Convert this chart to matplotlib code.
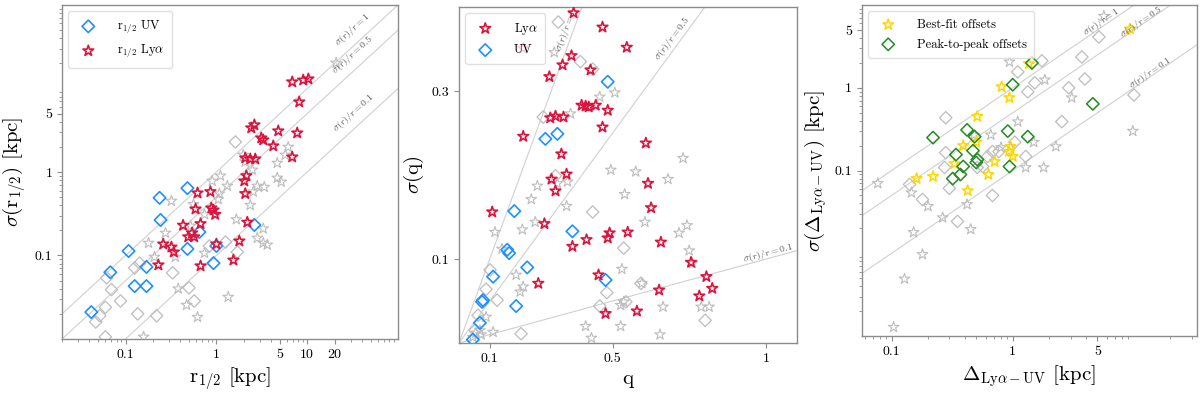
import matplotlib.pyplot as plt
from matplotlib.ticker import NullFormatter, LogLocator
import numpy as np

plt.rcParams['font.family'] = 'serif'
plt.rcParams['font.serif'] = ['cmr10']
plt.rcParams['mathtext.fontset'] = 'cm'
plt.rcParams['axes.formatter.use_mathtext'] = True

# ---- panel 1: half-light radius ----
r_uv = [0.48, 0.237, 0.243, 0.108, 0.068, 0.170, 0.126, 0.170, 0.042, 0.65, 0.48, 1.0, 0.93, 2.62]
sig_r_uv = [0.64, 0.49, 0.266, 0.113, 0.063, 0.073, 0.043, 0.043, 0.021, 0.191, 0.12, 0.130, 0.081, 0.232]

r_lya = [6.84, 9.03, 10.3, 8.17, 2.42, 2.62, 4.80, 7.76, 3.12, 3.28,
         4.23, 6.84, 2.08, 2.36, 2.68, 2.14, 2.03, 0.62, 0.86, 2.08,
         0.59, 0.88, 0.93, 0.97, 0.43, 0.67, 0.54, 0.49, 0.57, 0.26,
         0.32, 0.34, 1.0, 2.19, 1.79, 1.54, 0.67, 0.23]
sig_r_lya = [11.97, 12.6, 13.0, 6.89, 3.37, 3.66, 3.10, 2.93, 2.55, 2.42,
             2.05, 1.51, 1.47, 1.43, 1.43, 0.90, 0.78, 0.56, 0.58, 0.55,
             0.36, 0.37, 0.35, 0.31, 0.23, 0.24, 0.186, 0.167, 0.167, 0.137,
             0.126, 0.110, 0.137, 0.25, 0.149, 0.088, 0.075, 0.077]

r_uv_bg = [1.26, 0.84, 1.70, 0.143, 0.126, 0.33, 0.062, 0.070, 0.088, 0.060,
           0.052, 0.047, 0.136, 0.22, 0.50, 0.57, 0.060, 1.62]
sig_r_uv_bg = [0.145, 0.130, 0.110, 0.081, 0.071, 0.062, 0.054, 0.039, 0.0285, 0.024,
               0.019, 0.016, 0.020, 0.019, 0.041, 0.0285, 0.0106, 2.29]

r_lya_bg = [20.8, 6.18, 5.73, 4.68, 4.68, 5.18, 1.98, 2.08, 2.49, 1.11,
            0.90, 1.32, 2.82, 3.37, 2.55, 1.08, 0.32, 0.56, 1.05, 2.36,
            1.66, 3.28, 2.82, 3.63, 3.28, 0.275, 0.179, 0.208, 0.354, 0.52,
            0.74, 0.74, 0.38, 0.47, 0.62, 1.35, 0.158]
sig_r_lya_bg = [20.2, 1.99, 1.60, 1.28, 0.85, 0.76, 1.60, 1.32, 1.06, 0.90,
                0.78, 0.68, 0.68, 0.66, 0.58, 0.55, 0.45, 0.41, 0.47, 0.40,
                0.27, 0.21, 0.162, 0.134, 0.141, 0.186, 0.141, 0.096, 0.096, 0.226,
                0.31, 0.107, 0.040, 0.0255, 0.0183, 0.0318, 0.0106]

# ---- panel 2: axis ratio ----
q_lya = [0.373, 0.467, 0.546, 0.209, 0.366, 0.337, 0.428, 0.294, 0.399, 0.412,
         0.422, 0.445, 0.484, 0.297, 0.314, 0.340, 0.467, 0.209, 0.608, 0.333,
         0.350, 0.301, 0.314, 0.615, 0.108, 0.278, 0.625, 0.490, 0.484, 0.549,
         0.415, 0.369, 0.657, 0.755, 0.258, 0.454, 0.805, 0.824, 0.651, 0.782,
         0.477, 0.579]
sig_q_lya = [0.393, 0.376, 0.352, 0.351, 0.342, 0.331, 0.325, 0.317, 0.283, 0.282,
             0.281, 0.283, 0.277, 0.268, 0.270, 0.269, 0.257, 0.246, 0.238, 0.225,
             0.201, 0.195, 0.181, 0.190, 0.156, 0.142, 0.161, 0.131, 0.125, 0.132,
             0.123, 0.115, 0.120, 0.096, 0.071, 0.081, 0.079, 0.065, 0.063, 0.056,
             0.035, 0.038]

q_uv = [0.484, 0.281, 0.320, 0.180, 0.369, 0.157, 0.163, 0.222, 0.111, 0.477,
        0.078, 0.075, 0.186, 0.068, 0.045]
sig_q_uv = [0.311, 0.243, 0.249, 0.157, 0.133, 0.111, 0.107, 0.090, 0.079, 0.075,
            0.051, 0.049, 0.044, 0.024, 0.004]

q_uv_bg = [0.323, 0.395, 0.435, 0.274, 0.314, 0.435, 0.536, 0.592, 0.481, 0.543,
           0.458, 0.801, 0.101, 0.088, 0.124, 0.202, 0.062, 0.052]
sig_q_uv_bg = [0.382, 0.335, 0.326, 0.269, 0.199, 0.156, 0.113, 0.071, 0.060, 0.049,
               0.044, 0.027, 0.087, 0.064, 0.051, 0.011, 0.033, 0.015]

q_lya_bg = [0.310, 0.458, 0.507, 0.363, 0.494, 0.729, 0.575, 0.680, 0.539, 0.255,
            0.235, 0.320, 0.353, 0.350, 0.248, 0.206, 0.117, 0.605, 0.742, 0.716,
            0.749, 0.759, 0.140, 0.186, 0.209, 0.199, 0.530, 0.595, 0.526, 0.536,
            0.664, 0.788, 0.814, 0.412, 0.526, 0.431, 0.654, 0.111, 0.088, 0.055,
            0.068, 0.045, 0.072]
sig_q_lya_bg = [0.346, 0.293, 0.298, 0.273, 0.206, 0.220, 0.204, 0.195, 0.177, 0.187,
                0.171, 0.190, 0.192, 0.163, 0.144, 0.135, 0.132, 0.144, 0.140, 0.131,
                0.110, 0.095, 0.112, 0.081, 0.067, 0.061, 0.088, 0.071, 0.045, 0.049,
                0.043, 0.043, 0.043, 0.020, 0.020, 0.006, 0.010, 0.013, 0.031, 0.012,
                0.015, 0.007, 0.010]

# ---- panel 3: Lya-UV offsets ----
off_best = [9.27, 1.36, 0.81, 0.94, 0.51, 0.39, 0.50, 0.96, 0.93, 1.0,
            0.33, 0.71, 0.63, 0.22, 0.161, 0.425]
sig_off_best = [5.14, 1.95, 1.03, 0.76, 0.45, 0.20, 0.22, 0.195, 0.17, 0.148,
                0.121, 0.128, 0.0895, 0.0847, 0.080, 0.057]

off_peak = [1.44, 1.0, 4.58, 0.22, 0.42, 0.485, 0.91, 1.33, 0.34, 0.47,
            0.39, 0.51, 0.50, 0.94, 0.37, 0.32]
sig_off_peak = [2.0, 1.09, 0.64, 0.25, 0.31, 0.257, 0.30, 0.257, 0.156, 0.174,
                0.112, 0.136, 0.125, 0.112, 0.0895, 0.080]

off_peak_bg = [5.14, 3.72, 1.74, 1.10, 3.94, 1.52, 1.33, 2.90, 10.0, 0.28,
               2.54, 0.28, 0.274, 0.62, 0.68, 0.77, 0.565, 1.28, 0.141, 0.30,
               0.68, 1.04, 0.51, 0.18, 0.35]
sig_off_peak_bg = [4.12, 2.36, 2.12, 1.56, 1.28, 1.15, 0.895, 1.0, 0.82, 0.435,
                   0.39, 0.165, 0.109, 0.148, 0.17, 0.17, 0.112, 0.148, 0.068, 0.061,
                   0.050, 0.22, 0.109, 0.0447, 0.0243]

off_best_bg = [5.65, 0.94, 1.84, 3.07, 1.10, 0.66, 0.80, 1.49, 2.27, 1.28,
               1.80, 9.8, 0.077, 0.146, 0.48, 0.20, 0.42, 0.264, 0.152, 0.45,
               0.18, 0.128, 0.104]
sig_off_best_bg = [7.37, 2.06, 1.25, 0.76, 0.39, 0.27, 0.19, 0.22, 0.195, 0.109,
                   0.109, 0.30, 0.070, 0.054, 0.27, 0.037, 0.039, 0.027, 0.0179, 0.0195,
                   0.0097, 0.0049, 0.00128]

RATIOS = [1, 0.5, 0.1]
GRAY = '#bdbdbd'
SPINE = '#8c8c8c'
LINE = '#d0d0d0'
LABEL = '#555555'
BLUE = '#1e90ff'
RED = '#dc143c'
GOLD = '#ffd700'
GREEN = '#228b22'
LFS = 7


def style_axes(ax):
    for s in ax.spines.values():
        s.set_color(SPINE)
        s.set_linewidth(1.0)
    ax.tick_params(which='major', direction='out', length=3.5, width=0.8,
                   color=SPINE, labelsize=10)
    ax.tick_params(which='minor', direction='out', length=2, width=0.6,
                   color=SPINE)


def log_minor(ax):
    for axis in (ax.xaxis, ax.yaxis):
        axis.set_minor_locator(LogLocator(base=10, subs=np.arange(2, 10)))
        axis.set_minor_formatter(NullFormatter())


def add_legend(ax):
    leg = ax.legend(loc='upper left', fontsize=9, scatterpoints=1,
                    handletextpad=1.3, borderpad=0.6, labelspacing=0.6,
                    frameon=True)
    leg.get_frame().set_edgecolor('#d9d9d9')


fig = plt.figure(figsize=(12, 3.93), dpi=100)
ax1 = fig.add_axes([0.0517, 0.1374, 0.280, 0.850])
ax2 = fig.add_axes([0.3825, 0.1272, 0.2817, 0.855])
ax3 = fig.add_axes([0.7183, 0.1450, 0.2790, 0.842])

# panel 1
ax1.set_xscale('log')
ax1.set_yscale('log')
ax1.set_xlim(0.02, 100)
ax1.set_ylim(0.01, 100)
xs = np.logspace(-2, 2.2, 50)
for k in RATIOS:
    ax1.plot(xs, k * xs, color=LINE, lw=0.8, zorder=1)
ax1.scatter(r_uv_bg, sig_r_uv_bg, marker='D', s=40, facecolors='none',
            edgecolors=GRAY, linewidths=0.9, zorder=2)
ax1.scatter(r_lya_bg, sig_r_lya_bg, marker='*', s=65, facecolors='none',
            edgecolors=GRAY, linewidths=0.8, zorder=2)
ax1.scatter(r_uv, sig_r_uv, marker='D', s=40, facecolors='none',
            edgecolors=BLUE, linewidths=1.2, zorder=3, label=r'r$_{1/2}$ UV')
ax1.scatter(r_lya, sig_r_lya, marker='*', s=65, facecolors='none',
            edgecolors=RED, linewidths=1.2, zorder=3, label=r'r$_{1/2}$ Ly$\alpha$')
for k, lab, yf in [(1, '1', 1.6), (0.5, '0.5', 1.57), (0.1, '0.1', 1.58)]:
    ax1.text(32, 32 * k * yf, r'$\sigma(r)/r=%s$' % lab, rotation=42.5,
             rotation_mode='anchor', ha='center', va='center', fontsize=LFS,
             color=LABEL, clip_on=True)
ax1.set_xticks([0.1, 1, 5, 10, 20])
ax1.set_xticklabels(['0.1', '1', '5', '10', '20'])
ax1.set_yticks([0.1, 1, 5])
ax1.set_yticklabels(['0.1', '1', '5'])
log_minor(ax1)
ax1.set_xlabel(r'r$_{1/2}$ [kpc]', fontsize=15)
ax1.set_ylabel(r'$\sigma$(r$_{1/2}$) [kpc]', fontsize=15)
style_axes(ax1)
add_legend(ax1)

# panel 2
ax2.set_xlim(0, 1.1)
ax2.set_ylim(0, 0.4)
xl = np.linspace(0, 1.1, 50)
for k in RATIOS:
    ax2.plot(xl, k * xl, color=LINE, lw=0.8, zorder=1)
ax2.scatter(q_uv_bg, sig_q_uv_bg, marker='D', s=40, facecolors='none',
            edgecolors=GRAY, linewidths=0.9, zorder=2)
ax2.scatter(q_lya_bg, sig_q_lya_bg, marker='*', s=65, facecolors='none',
            edgecolors=GRAY, linewidths=0.8, zorder=2)
ax2.scatter(q_lya, sig_q_lya, marker='*', s=65, facecolors='none',
            edgecolors=RED, linewidths=1.2, zorder=5, label=r'Ly$\alpha$')
ax2.scatter(q_uv, sig_q_uv, marker='D', s=40, facecolors='none',
            edgecolors=BLUE, linewidths=1.2, zorder=4, label='UV')
ax2.text(0.35, 0.372, r'$\sigma(r)/r=1$', rotation=70, rotation_mode='anchor',
         ha='center', va='center', fontsize=LFS, color=LABEL, clip_on=True)
ax2.text(0.693, 0.362, r'$\sigma(r)/r=0.5$', rotation=53, rotation_mode='anchor',
         ha='center', va='center', fontsize=LFS, color=LABEL, clip_on=True)
ax2.text(1.005, 0.107, r'$\sigma(r)/r=0.1$', rotation=15, rotation_mode='anchor',
         ha='center', va='center', fontsize=LFS, color=LABEL, clip_on=True)
ax2.set_xticks([0.1, 0.5, 1])
ax2.set_xticklabels(['0.1', '0.5', '1'])
ax2.set_yticks([0.1, 0.3])
ax2.set_yticklabels(['0.1', '0.3'])
ax2.set_xlabel('q', fontsize=15)
ax2.set_ylabel(r'$\sigma$(q)', fontsize=15)
style_axes(ax2)
add_legend(ax2)

# panel 3
ax3.set_xscale('log')
ax3.set_yscale('log')
ax3.set_xlim(0.057, 33)
ax3.set_ylim(0.001, 10)
xs = np.logspace(-1.5, 1.6, 50)
for k in RATIOS:
    ax3.plot(xs, k * xs, color=LINE, lw=0.8, zorder=1)
ax3.scatter(off_peak_bg, sig_off_peak_bg, marker='D', s=40, facecolors='none',
            edgecolors=GRAY, linewidths=0.9, zorder=2)
ax3.scatter(off_best_bg, sig_off_best_bg, marker='*', s=65, facecolors='none',
            edgecolors=GRAY, linewidths=0.8, zorder=2)
ax3.scatter(off_best, sig_off_best, marker='*', s=65, facecolors='none',
            edgecolors=GOLD, linewidths=1.1, zorder=3, label='Best-fit offsets')
ax3.scatter(off_peak, sig_off_peak, marker='D', s=40, facecolors='none',
            edgecolors=GREEN, linewidths=1.1, zorder=4, label='Peak-to-peak offsets')
for xt, yt, lab in [(5.4, 6.2, '1'), (11.6, 6.3, '0.5'), (13.7, 1.5, '0.1')]:
    ax3.text(xt, yt, r'$\sigma(r)/r=%s$' % lab, rotation=34.5,
             rotation_mode='anchor', ha='center', va='center', fontsize=6.6,
             color=LABEL, clip_on=True)
ax3.set_xticks([0.1, 1, 5])
ax3.set_xticklabels(['0.1', '1', '5'])
ax3.set_yticks([0.1, 1, 5])
ax3.set_yticklabels(['0.1', '1', '5'])
log_minor(ax3)
ax3.set_xlabel(r'$\Delta_{\rm Ly\alpha-UV}$ [kpc]', fontsize=15)
ax3.set_ylabel(r'$\sigma(\Delta_{\rm Ly\alpha-UV})$ [kpc]', fontsize=15)
style_axes(ax3)
add_legend(ax3)

fig.savefig('out.png', dpi=100)
